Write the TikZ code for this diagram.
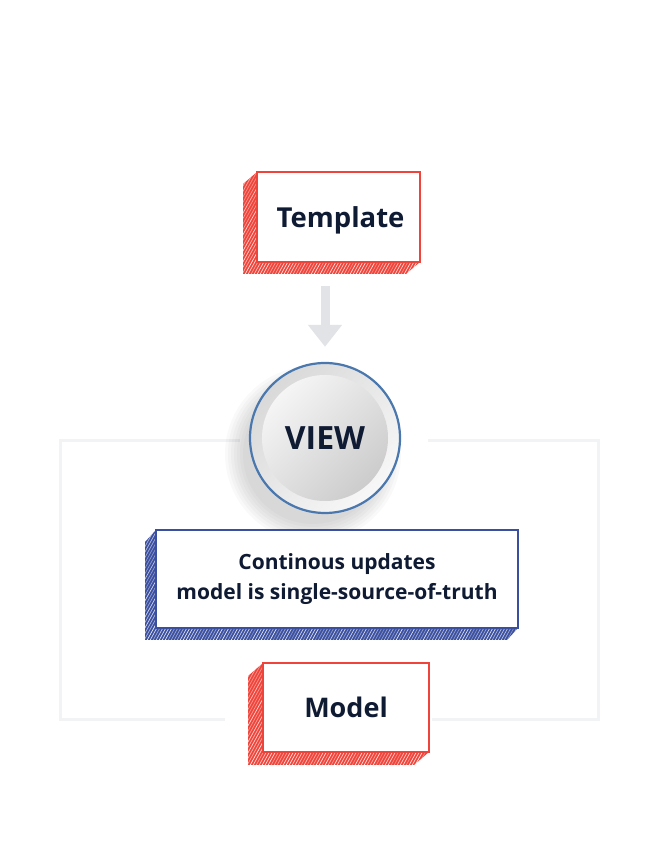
\documentclass[tikz,border=0pt]{standalone}
\usepackage{fontspec}
\setsansfont{Open Sans}
\usetikzlibrary{calc,arrows.meta}
\definecolor{ink}{HTML}{0F1A33}
\definecolor{redc}{HTML}{F0443A}
\definecolor{bluec}{HTML}{3A4FA0}
\definecolor{ringc}{HTML}{4A78AE}
\definecolor{framec}{HTML}{F2F3F5}
\definecolor{arrowc}{HTML}{E1E3E6}
\tikzset{
  front/.style={draw=#1, fill=white, line width=2.2pt, outer sep=0pt, rectangle,
    font=\sffamily\bfseries, text=ink, align=center},
  framel/.style={draw=framec, line width=3pt},
}
\newcommand\boxside[4]{% node, colour, dx, dy
  \begin{scope}
    \path[fill=#2] (#1.north west) -- ++(#3,#4) -- ($(#1.south west)+(#3,#4)$)
      -- ($(#1.south east)+(#3,#4)$) -- (#1.south east) -- (#1.south west) -- cycle;
    \clip (#1.north west) -- ++(#3,#4) -- ($(#1.south west)+(#3,#4)$)
      -- ($(#1.south east)+(#3,#4)$) -- (#1.south east) -- (#1.south west) -- cycle;
    \pgfmathsetseed{7}
    \foreach \i in {-90,-87,...,380}{
      \pgfmathsetmacro\op{0.35+0.55*rnd}
      \draw[white, line width=0.7pt, opacity=\op]
        ($(#1.south west)+(#3,#4)+(\i,-4)$) -- ++(72,130);
    }
  \end{scope}
  \draw[#2, line width=2.2pt] (#1.north west) rectangle (#1.south east);
}
\begin{document}
\begin{tikzpicture}[x=1pt,y=1pt]
  \useasboundingbox (0,0) rectangle (657,842);
  % faint frame
  \draw[framel] (240,401) -- (60,401) -- (60,122) -- (225,122);
  \draw[framel] (428,401) -- (598,401) -- (598,122) -- (432,122);

  % Template
  \node[front=redc, minimum width=163pt, minimum height=90pt, text depth=0pt,
    font=\sffamily\bfseries\fontsize{27.5}{30}\selectfont]
    (tmpl) at (338.5,625) {\hspace{4pt}Template};
  \boxside{tmpl}{redc}{-14}{-12}

  % VIEW
  \coordinate (vc) at (325,404);
  \foreach \r in {88,85,...,70}
    \fill[black, opacity=0.022] ($(vc)+(-12,-16)$) circle (\r);
  \shade[top color=black!15, bottom color=black!3, shading angle=45] (vc) circle (75);
  \draw[ringc, line width=2.2pt] (vc) circle (75);
  \shade[top color=black!4, bottom color=black!20, shading angle=45] (vc) circle (63);
  \node[circle, minimum size=150pt, font=\sffamily\bfseries\fontsize{32}{38}\selectfont, text=ink]
    (view) at (vc) {VIEW};

  % arrow Template -> VIEW
  \coordinate (arrS) at ($(view.north |- tmpl.south)+(0,-24)$);
  \coordinate (arrE) at ($(view.north)+(0,16)$);
  \draw[arrowc, line width=9pt, -{Triangle[width=33pt,length=22pt]}] (arrS) -- (arrE);

  % Continuous updates box
  \node[front=bluec, minimum width=362pt, minimum height=98pt,
    font=\sffamily\bfseries\fontsize{21}{30}\selectfont]
    (upd) at (337,263) {\raisebox{-3pt}{\begin{tabular}{@{}c@{}}Continous updates\\model is single-source-of-truth\end{tabular}}};
  \boxside{upd}{bluec}{-11}{-12}

  % Model
  \node[front=redc, minimum width=166pt, minimum height=89pt, text depth=0pt,
    font=\sffamily\bfseries\fontsize{27}{30}\selectfont]
    (model) at (346,134.5) {Model};
  \boxside{model}{redc}{-15}{-13}
\end{tikzpicture}
\end{document}
